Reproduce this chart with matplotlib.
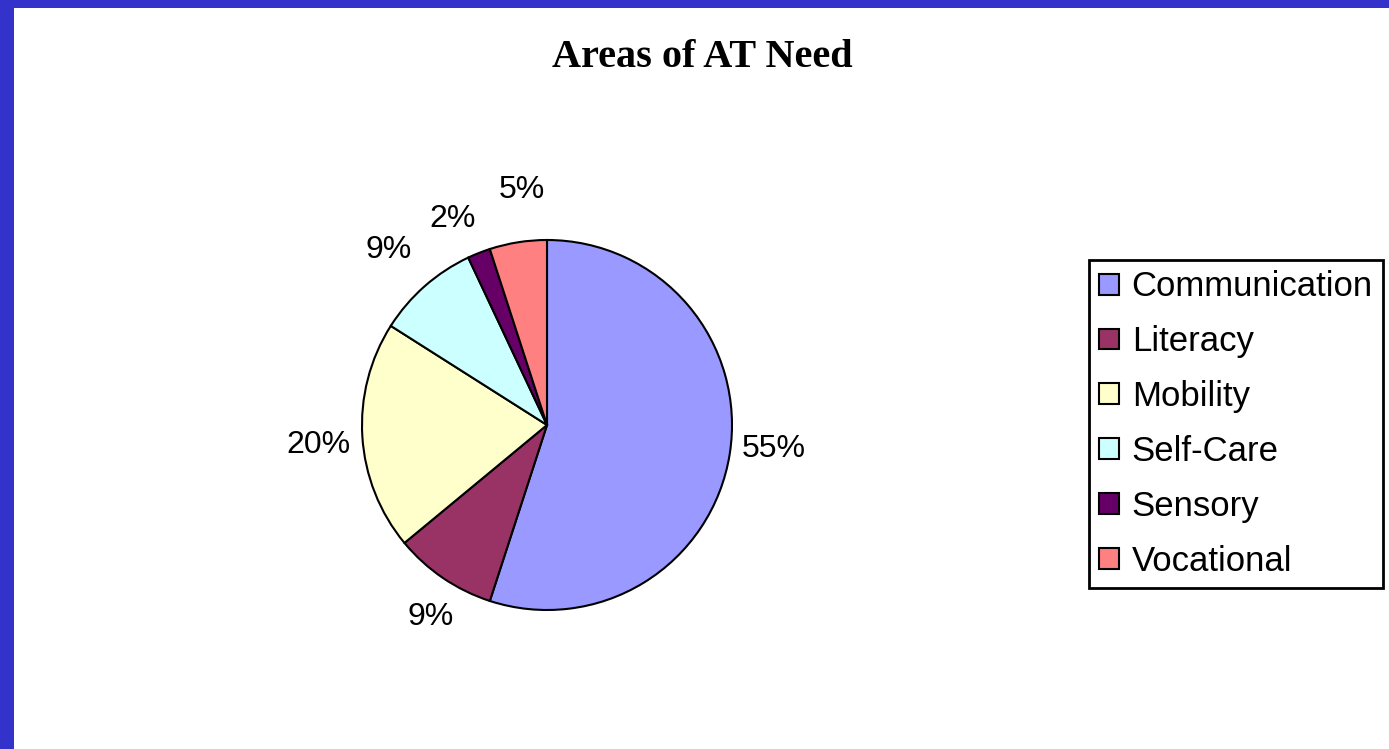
import matplotlib
matplotlib.use("Agg")
import numpy as np
import matplotlib.pyplot as plt
from matplotlib.patches import Rectangle

categories = ["Communication", "Literacy", "Mobility", "Self-Care", "Sensory", "Vocational"]
values = [55, 9, 20, 9, 2, 5]
colors = ["#9999FF", "#993366", "#FFFFCC", "#CCFFFF", "#660066", "#FF8080"]
title = "Areas of AT Need"

# label placement tweaks (radius factor, angle nudge in degrees), Excel-like layout
label_radius = [1.232, 1.199, 1.241, 1.288, 1.241, 1.293]
label_nudge = [3.7, 2.7, 0.6, 0.2, 2.8, -3.0]

W, H = 1389, 749
fig = plt.figure(figsize=(W / 100, H / 100), dpi=100)
fig.patch.set_facecolor("#3333CC")
fig.patches.append(Rectangle((14 / W, 0), 1 - 14 / W, (H - 8) / H,
                             transform=fig.transFigure, facecolor="white",
                             edgecolor="none", zorder=-10))

fig.text(702 / W, 1 - 67 / H, title, ha="center", va="baseline",
         fontsize=29, fontweight="bold", family="Liberation Serif")

cx, cy, r = 547, 425, 185
ax = fig.add_axes([(cx - r) / W, (H - cy - r) / H, 2 * r / W, 2 * r / H])
ax.set_zorder(1)
wedges, texts, autotexts = ax.pie(
    values, colors=colors, startangle=90, counterclock=False,
    autopct="%1.0f%%", pctdistance=1.23,
    wedgeprops=dict(edgecolor="black", linewidth=1.5),
    textprops=dict(fontsize=23, family="Liberation Sans", color="black"))
for w, t, rf, nd in zip(wedges, autotexts, label_radius, label_nudge):
    mid = np.deg2rad((w.theta1 + w.theta2) / 2 + nd)
    t.set_position((rf * np.cos(mid), rf * np.sin(mid) - 0.017))
    t.set_ha("center")
    t.set_va("center")
ax.set_xlim(-1, 1)
ax.set_ylim(-1, 1)
ax.set_aspect("equal")
ax.axis("off")

leg = fig.legend(wedges, categories, loc="upper left",
                 bbox_to_anchor=(1089 / W, 1 - 260 / H),
                 prop=dict(family="Liberation Sans", size=25),
                 frameon=True, fancybox=False, edgecolor="black", framealpha=1,
                 handlelength=0.55, handleheight=0.55, handletextpad=0.38,
                 labelspacing=0.63, borderpad=0.3, borderaxespad=0)
leg.get_frame().set_linewidth(2)
for h in leg.legend_handles:
    h.set_linewidth(1.5)

fig.savefig("out.png", dpi=100, facecolor=fig.get_facecolor())
